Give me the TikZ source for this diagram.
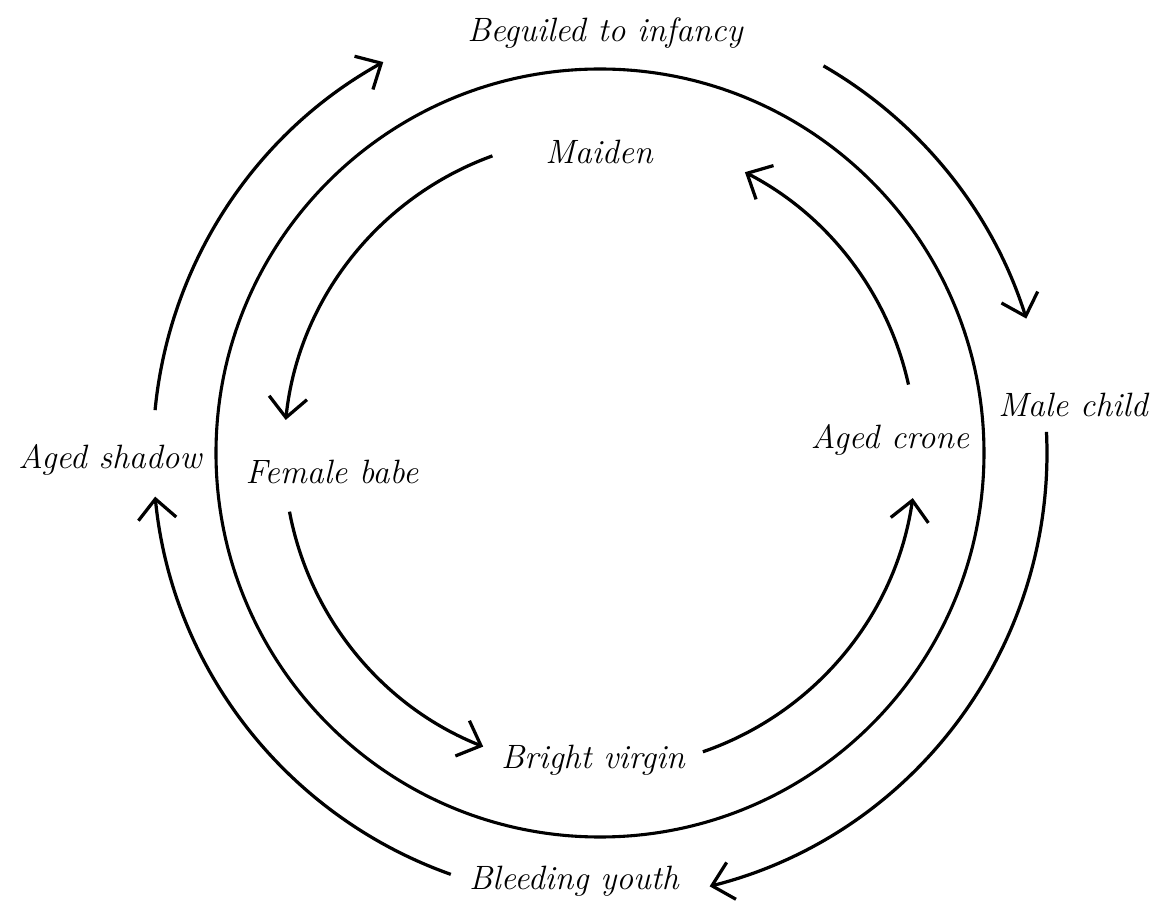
\documentclass[tikz,border=0pt]{standalone}
\usepackage{tikz}
\usetikzlibrary{arrows.meta}
\newcommand\ringarc[4][]{\draw[#1] (#2:#4) arc[start angle=#2, end angle=#3, radius=#4];}
\tikzset{
	cycletext/.style={font=\fontsize{24}{28}\selectfont\itshape, inner sep=1pt},
	cyclearrow/.style={line width=2.3pt, -{Straight Barb[length=5mm, width=9.5mm, line width=2.3pt]}}
}

\begin{document}
\begin{tikzpicture}
			%%%%% START %%%%%
			\useasboundingbox (-15, -11.25) rectangle (13.975, 11.325);
			
			\draw[line width=2.2pt] (0, 0) circle (9.6);
			
			% outer ring, clockwise
			\node[cycletext] (beguiled) at (0.125, 10.5) {Beguiled to infancy};
			\node[cycletext] (malechild) at (11.825, 1.2) {Male child};
			\node[cycletext] (bleeding) at (-0.65, -10.7) {Bleeding youth};
			\node[cycletext] (shadow) at (-12.25, -0.175) {Aged shadow};
			
			\ringarc[cyclearrow]{174.5}{119}{11.175}
			\ringarc[cyclearrow]{60}{17.5}{11.175}
			\ringarc[cyclearrow]{2.7}{-75.8}{11.175}
			\ringarc[cyclearrow]{250.5}{185.6}{11.175}
			
			% inner ring, counter-clockwise
			\node[cycletext] (maiden) at (-0.025, 7.525) {Maiden};
			\node[cycletext] (babe) at (-6.7, -0.475) {Female babe};
			\node[cycletext] (virgin) at (-0.175, -7.675) {Bright virgin};
			\node[cycletext] (crone) at (7.25, 0.325) {Aged crone};
			
			\ringarc[cyclearrow]{109.9}{174}{7.9}
			\ringarc[cyclearrow]{190.7}{248.3}{7.9}
			\ringarc[cyclearrow]{289}{351.8}{7.9}
			\ringarc[cyclearrow]{12.5}{62.7}{7.9}
			%%%%% END %%%%%
		\end{tikzpicture}
\end{document}
